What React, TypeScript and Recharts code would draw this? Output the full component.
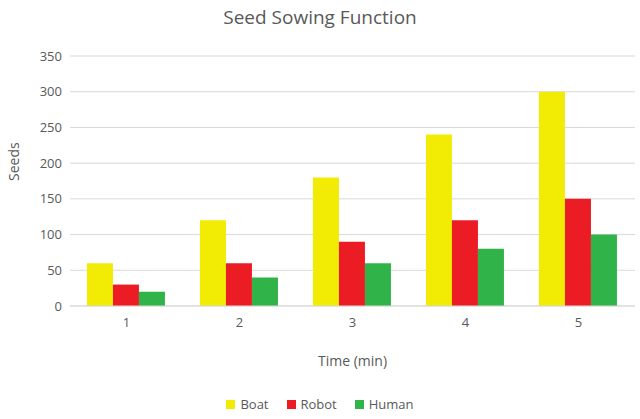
import { BarChart, Bar, XAxis, YAxis, CartesianGrid } from "recharts";

document.body.style.margin = "0";

const times = ["1", "2", "3", "4", "5"];
const boat = [60, 120, 180, 240, 300];
const robot = [30, 60, 90, 120, 150];
const human = [20, 40, 60, 80, 100];
const yTicks = [0, 50, 100, 150, 200, 250, 300, 350];
const series = [
  { key: "Boat", color: "#f2ec05" },
  { key: "Robot", color: "#ec1c24" },
  { key: "Human", color: "#30b44a" },
];

const data = times.map((t, i) => ({
  time: t,
  Boat: boat[i],
  Robot: robot[i],
  Human: human[i],
}));

const font = "'Open Sans', sans-serif";
const grey = "#595959";

export default function App() {
  return (
    <div style={{ position: "relative", width: 640, height: 419, fontFamily: font, background: "#fff" }}>
      <div style={{ position: "absolute", top: 4, width: 640, textAlign: "center", fontSize: 19, color: grey }}>
        Seed Sowing Function
      </div>
      <BarChart
        width={640}
        height={419}
        data={data}
        margin={{ top: 56, right: 5, left: 0, bottom: 83 }}
        barCategoryGap="15%"
        barGap={0}
      >
        <CartesianGrid vertical={false} stroke="#d9d9d9" />
        <XAxis
          dataKey="time"
          tickLine={false}
          axisLine={{ stroke: "#d9d9d9" }}
          tick={{ fill: grey, fontSize: 13, fontFamily: font }}
          tickMargin={6}
          label={{ value: "Time (min)", position: "insideBottom", offset: -30, fill: grey, fontSize: 14, fontFamily: font }}
        />
        <YAxis
          width={70}
          domain={[0, 350]}
          ticks={yTicks}
          tickLine={false}
          axisLine={false}
          tick={{ fill: grey, fontSize: 13, fontFamily: font }}
          label={{ value: "Seeds", angle: -90, position: "insideLeft", offset: 14, fill: grey, fontSize: 14, fontFamily: font }}
        />
        {series.map((s) => (
          <Bar key={s.key} dataKey={s.key} fill={s.color} isAnimationActive={false} />
        ))}
      </BarChart>
      <div
        style={{
          position: "absolute",
          top: 395,
          width: 640,
          display: "flex",
          justifyContent: "center",
          gap: 18,
          fontSize: 13,
          color: grey,
        }}
      >
        {series.map((s) => (
          <span key={s.key} style={{ display: "flex", alignItems: "center", gap: 5 }}>
            <span style={{ width: 9, height: 9, background: s.color, display: "inline-block" }} />
            {s.key}
          </span>
        ))}
      </div>
    </div>
  );
}
